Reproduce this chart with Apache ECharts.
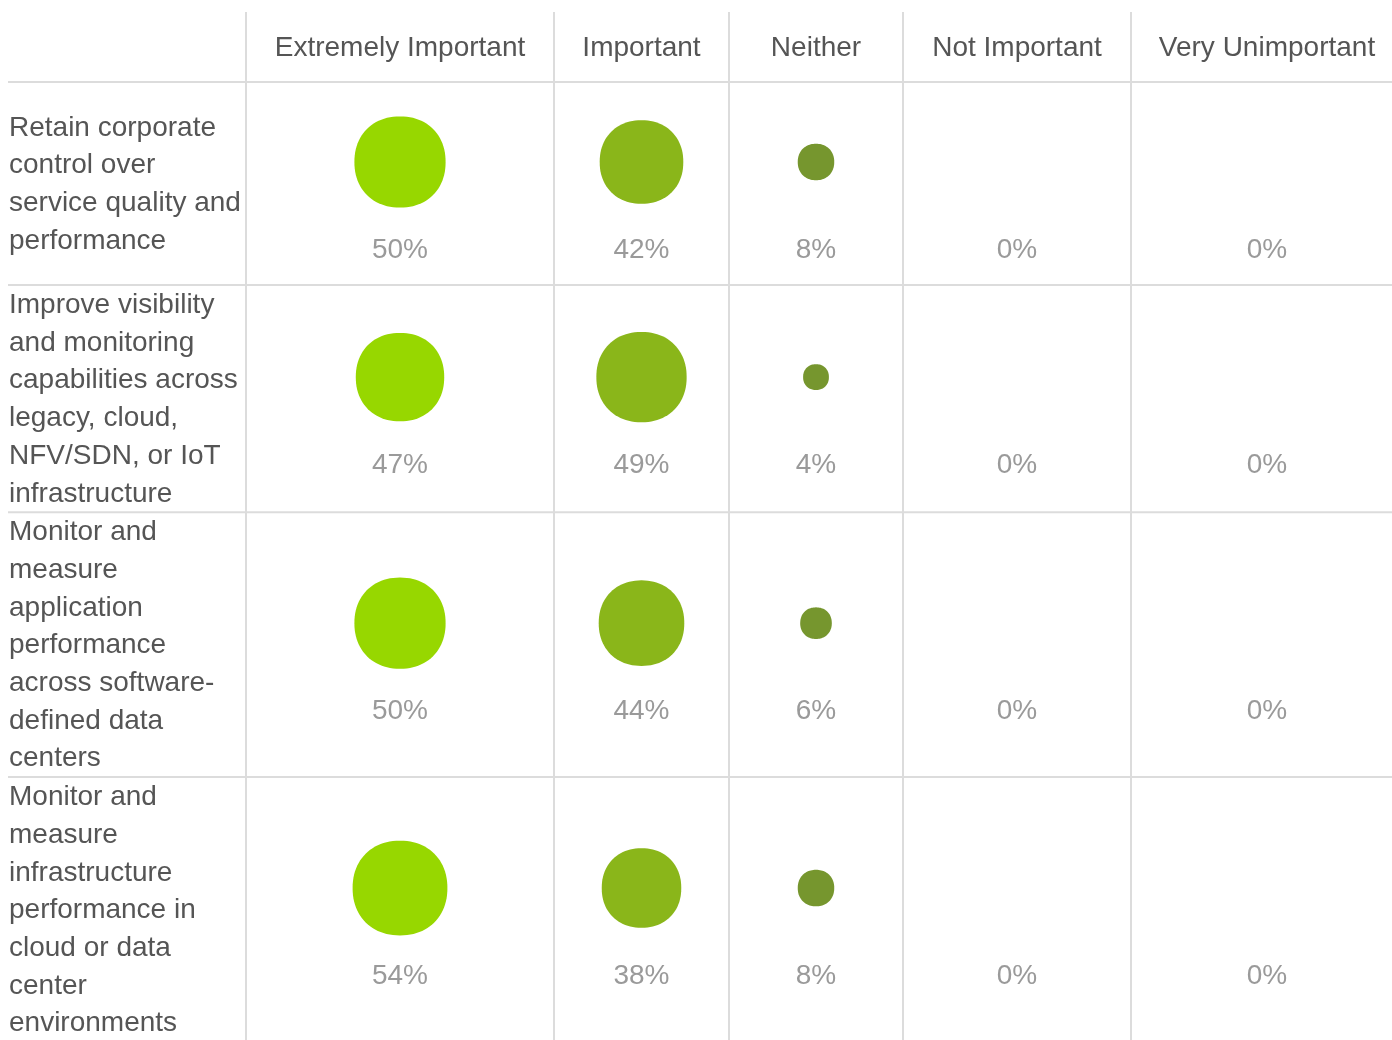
<!DOCTYPE html>
<html>
<head>
<meta charset="utf-8">
<script src="https://cdn.jsdelivr.net/npm/echarts@6/dist/echarts.min.js"></script>
<style>html,body{margin:0;padding:0;background:#fff;}#c{width:1392px;height:1040px;}</style>
</head>
<body>
<div id="c"></div>
<script>
// ---- data ----
const columns = ['Extremely Important', 'Important', 'Neither', 'Not Important', 'Very Unimportant'];
const rowLabels = [
  'Retain corporate\ncontrol over\nservice quality and\nperformance',
  'Improve visibility\nand monitoring\ncapabilities across\nlegacy, cloud,\nNFV/SDN, or IoT\ninfrastructure',
  'Monitor and\nmeasure\napplication\nperformance\nacross software-\ndefined data\ncenters',
  'Monitor and\nmeasure\ninfrastructure\nperformance in\ncloud or data\ncenter\nenvironments'
];
const extremelyImportant = [50, 47, 50, 54];
const important = [42, 49, 44, 38];
const neither = [8, 4, 6, 8];
const notImportant = [0, 0, 0, 0];
const veryUnimportant = [0, 0, 0, 0];
const seriesValues = [extremelyImportant, important, neither, notImportant, veryUnimportant];

// ---- layout (not data) ----
const W = 1392, H = 1040;
const colEdges = [246, 554, 729, 903, 1131, 1403];
const headerTop = 12, headerBottom = 82, headerY = 48;
const lineH = 37.7, minRowH = 203;
const colors = ['#97d700', '#8ab61a', '#76962e', '#76962e', '#76962e'];
const FONT = '"Liberation Sans", Arial, Helvetica, sans-serif';
const FS = '28px ';

const rowTops = [];
let t = headerBottom;
rowLabels.forEach(function (l) {
  rowTops.push(t);
  const n = l.split('\n').length;
  t += Math.max(n * lineH + 1, minRowH);
});
rowTops.push(t);
const rowMid = function (i) { return (rowTops[i] + rowTops[i + 1]) / 2; };
const colMid = function (j) { return (colEdges[j] + colEdges[j + 1]) / 2; };

// squircle symbol
function squircle(n) {
  const pts = [];
  const N = 96;
  for (let k = 0; k < N; k++) {
    const a = (k / N) * Math.PI * 2;
    const c = Math.cos(a), s = Math.sin(a);
    const x = 50 + 50 * Math.sign(c) * Math.pow(Math.abs(c), 2 / n);
    const y = 50 + 50 * Math.sign(s) * Math.pow(Math.abs(s), 2 / n);
    pts.push((k ? 'L' : 'M') + x.toFixed(2) + ' ' + y.toFixed(2));
  }
  return 'path://' + pts.join(' ') + ' Z';
}
const SYM = squircle(2.15);

const series = [];
// table frame, headers and row labels
series.push({
  type: 'custom',
  silent: true,
  data: [[0, 0]],
  renderItem: function (params, api) {
    const children = [];
    const ls = { stroke: '#dcdcdc', lineWidth: 2 };
    colEdges.slice(0, 5).forEach(function (x) {
      const p1 = api.coord([x, headerTop]), p2 = api.coord([x, H]);
      children.push({ type: 'line', shape: { x1: p1[0], y1: p1[1], x2: p2[0], y2: p2[1] }, style: ls });
    });
    rowTops.slice(0, rowLabels.length).forEach(function (y) {
      const p1 = api.coord([8, y]), p2 = api.coord([W, y]);
      children.push({ type: 'line', shape: { x1: p1[0], y1: p1[1], x2: p2[0], y2: p2[1] }, style: ls });
    });
    columns.forEach(function (c, j) {
      const p = api.coord([colMid(j), headerY]);
      children.push({ type: 'text', x: p[0], y: p[1], style: { text: c, fill: '#555', font: FS + FONT, align: 'center', verticalAlign: 'middle' } });
    });
    rowLabels.forEach(function (l, i) {
      const p = api.coord([9, rowMid(i) + 1]);
      children.push({ type: 'text', x: p[0], y: p[1], style: { text: l, fill: '#555', font: FS + FONT, lineHeight: lineH, align: 'left', verticalAlign: 'middle' } });
    });
    return { type: 'group', children: children };
  }
});

// bubbles
seriesValues.forEach(function (vals, j) {
  series.push({
    name: columns[j],
    type: 'scatter',
    symbol: SYM,
    symbolSize: function (v) { return v[2] > 0 ? 12.9 * Math.sqrt(v[2]) : 0; },
    itemStyle: { color: colors[j], opacity: 1 },
    data: vals.map(function (v, i) { return [colMid(j), rowMid(i) - 21.5, v]; })
  });
});

// percent labels
series.push({
  type: 'custom',
  silent: true,
  data: (function () {
    const d = [];
    seriesValues.forEach(function (vals, j) {
      vals.forEach(function (v, i) { d.push([colMid(j), rowMid(i) + 67, v]); });
    });
    return d;
  })(),
  renderItem: function (params, api) {
    const p = api.coord([api.value(0), api.value(1)]);
    return { type: 'text', x: p[0], y: p[1], style: { text: api.value(2) + '%', fill: '#9a9a9a', font: FS + FONT, align: 'center', verticalAlign: 'middle' } };
  }
});

const chart = echarts.init(document.getElementById('c'), null, { renderer: 'canvas' });
chart.setOption({
  animation: false,
  backgroundColor: '#fff',
  grid: { left: 0, right: 0, top: 0, bottom: 0 },
  xAxis: { type: 'value', min: 0, max: W, show: false },
  yAxis: { type: 'value', min: 0, max: H, inverse: true, show: false },
  tooltip: { show: false },
  series: series
});
</script>
</body>
</html>
